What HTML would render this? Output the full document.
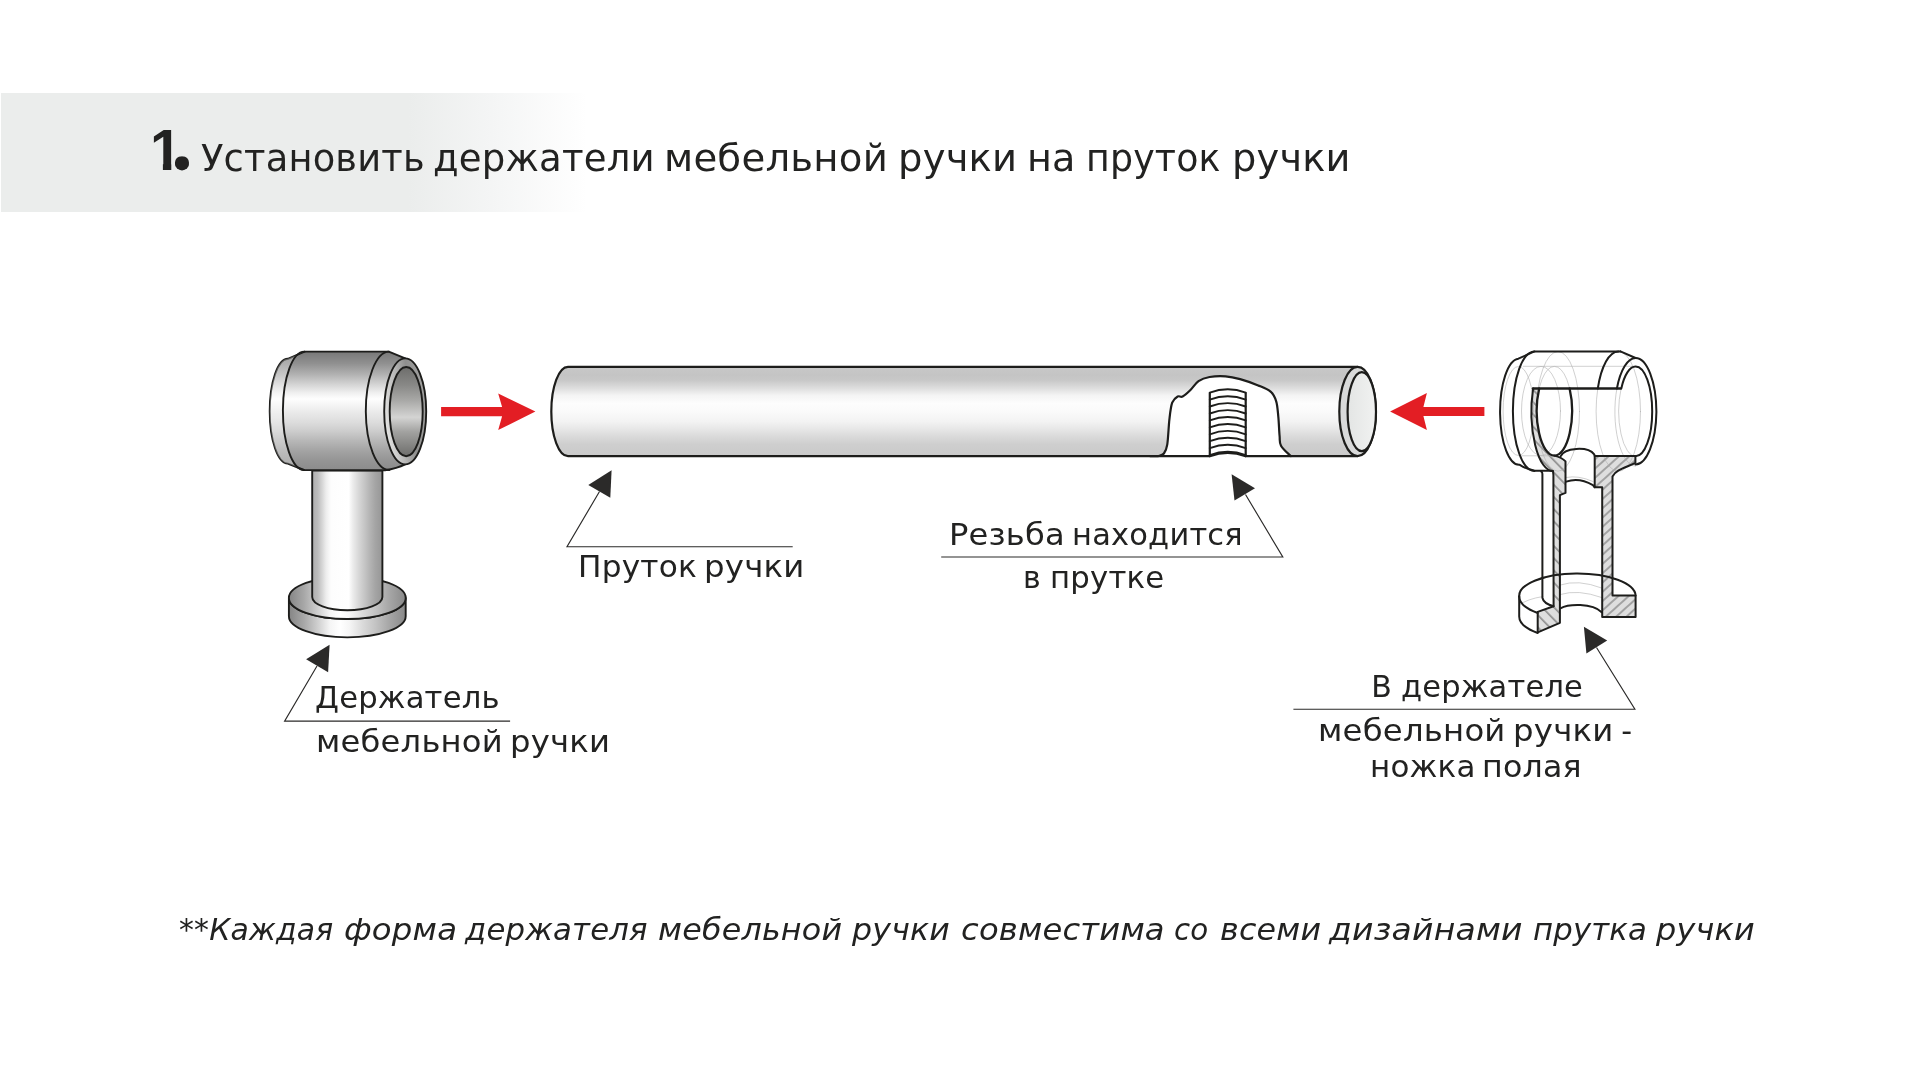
<!DOCTYPE html>
<html lang="ru"><head><meta charset="utf-8"><title>Шаг 1. Установить держатели мебельной ручки на пруток ручки</title>
<style>
html,body{margin:0;padding:0;background:#fff;}
body{width:1922px;height:1082px;position:relative;overflow:hidden;font-family:"DejaVu Sans","Liberation Sans",sans-serif;color:#222221;}
.band{position:absolute;left:1px;top:93px;width:600px;height:119px;background:linear-gradient(90deg,#ebedec 0,#ebedec 408px,#f4f5f5 490px,#fff 586px);}
.t{position:absolute;left:0;white-space:nowrap;line-height:1;margin:0;font-weight:normal;will-change:transform;}
.t span{position:absolute;top:0;transform-origin:0 0;}
svg{position:absolute;left:0;top:0;}
</style></head><body>
<div class="band"></div>
<svg width="1922" height="1082" viewBox="0 0 1922 1082">
<defs>
<linearGradient id="gBar" x1="0" y1="351.6" x2="0" y2="470" gradientUnits="userSpaceOnUse">
<stop offset="0" stop-color="#787878"/><stop offset="0.1" stop-color="#909090"/><stop offset="0.2" stop-color="#b4b4b4"/><stop offset="0.28" stop-color="#d5d5d5"/><stop offset="0.35" stop-color="#f0f0f0"/><stop offset="0.4" stop-color="#fefefe"/><stop offset="0.45" stop-color="#f5f5f5"/><stop offset="0.53" stop-color="#e7e7e7"/><stop offset="0.6" stop-color="#dcdcdc"/><stop offset="0.67" stop-color="#cdcdcd"/><stop offset="0.75" stop-color="#b8b8b8"/><stop offset="0.83" stop-color="#a5a5a5"/><stop offset="0.91" stop-color="#969696"/><stop offset="1" stop-color="#8c8c8c"/></linearGradient>
<linearGradient id="gHole" x1="0" y1="366" x2="0" y2="456" gradientUnits="userSpaceOnUse">
<stop offset="0" stop-color="#6c6c6a"/><stop offset="0.21" stop-color="#888886"/><stop offset="0.38" stop-color="#a8a8a6"/><stop offset="0.57" stop-color="#d4d4d3"/><stop offset="0.73" stop-color="#a2a2a0"/><stop offset="0.88" stop-color="#858583"/><stop offset="1" stop-color="#6e6e6c"/></linearGradient>
<linearGradient id="gRing" x1="0" y1="0.6" x2="1" y2="0.3">
<stop offset="0" stop-color="#e6e6e5"/><stop offset="0.35" stop-color="#b9b9b8"/><stop offset="0.62" stop-color="#8f8f8e"/><stop offset="1" stop-color="#a4a4a3"/></linearGradient>
<linearGradient id="gStem" x1="312" y1="0" x2="382.5" y2="0" gradientUnits="userSpaceOnUse">
<stop offset="0" stop-color="#adadad"/><stop offset="0.08" stop-color="#bcbcbc"/><stop offset="0.14" stop-color="#d4d4d4"/><stop offset="0.2" stop-color="#ededed"/><stop offset="0.27" stop-color="#fdfdfd"/><stop offset="0.52" stop-color="#ffffff"/><stop offset="0.58" stop-color="#ececec"/><stop offset="0.66" stop-color="#d8d8d8"/><stop offset="0.74" stop-color="#c6c6c6"/><stop offset="0.82" stop-color="#b4b4b4"/><stop offset="0.9" stop-color="#a4a4a4"/><stop offset="1" stop-color="#969696"/></linearGradient>
<linearGradient id="gBaseS" x1="289" y1="0" x2="406" y2="0" gradientUnits="userSpaceOnUse">
<stop offset="0" stop-color="#858585"/><stop offset="0.13" stop-color="#a8a8a8"/><stop offset="0.24" stop-color="#cdcdcd"/><stop offset="0.35" stop-color="#f5f5f5"/><stop offset="0.44" stop-color="#ffffff"/><stop offset="0.52" stop-color="#f5f5f5"/><stop offset="0.63" stop-color="#dadada"/><stop offset="0.74" stop-color="#c3c3c3"/><stop offset="0.85" stop-color="#a8a8a8"/><stop offset="1" stop-color="#888888"/></linearGradient>
<linearGradient id="gBaseT" x1="289" y1="0" x2="406" y2="0" gradientUnits="userSpaceOnUse">
<stop offset="0" stop-color="#858585"/><stop offset="0.13" stop-color="#a8a8a8"/><stop offset="0.24" stop-color="#cdcdcd"/><stop offset="0.35" stop-color="#f5f5f5"/><stop offset="0.44" stop-color="#ffffff"/><stop offset="0.52" stop-color="#f5f5f5"/><stop offset="0.63" stop-color="#dadada"/><stop offset="0.74" stop-color="#c3c3c3"/><stop offset="0.85" stop-color="#a8a8a8"/><stop offset="1" stop-color="#888888"/></linearGradient>
<linearGradient id="gRod" x1="0" y1="366.9" x2="0" y2="456.1" gradientUnits="userSpaceOnUse">
<stop offset="0" stop-color="#c8c8c8"/><stop offset="0.09" stop-color="#c4c4c4"/><stop offset="0.15" stop-color="#c8c8c8"/><stop offset="0.24" stop-color="#dedede"/><stop offset="0.32" stop-color="#f4f4f4"/><stop offset="0.41" stop-color="#fdfdfd"/><stop offset="0.5" stop-color="#fafafa"/><stop offset="0.61" stop-color="#f3f3f3"/><stop offset="0.69" stop-color="#e8e8e8"/><stop offset="0.78" stop-color="#dadada"/><stop offset="0.87" stop-color="#cecece"/><stop offset="1" stop-color="#cacaca"/></linearGradient>
<linearGradient id="gFace" x1="1347" y1="0" x2="1376" y2="0" gradientUnits="userSpaceOnUse">
<stop offset="0" stop-color="#e3e5e4"/><stop offset="1" stop-color="#f1f2f1"/></linearGradient>
<pattern id="hR" width="6.9" height="6.9" patternUnits="userSpaceOnUse" patternTransform="rotate(-42)"><line x1="0" y1="1" x2="6.9" y2="1" stroke="#333" stroke-width="0.7"/></pattern>
<pattern id="hL" width="8.5" height="8.5" patternUnits="userSpaceOnUse" patternTransform="rotate(46)"><line x1="0" y1="1" x2="8.5" y2="1" stroke="#222" stroke-width="0.7"/></pattern>
</defs>
<g fill="none" stroke="#1d1d1b" stroke-width="2.2" stroke-linejoin="round" stroke-linecap="round">
<g stroke-width="1.9">
<path d="M288.9,597.9 A58.4,21.1 0 0 0 405.7,597.9 L405.7,616.3 A58.4,21.1 0 0 1 288.9,616.3 Z" fill="url(#gBaseS)"/>
<ellipse cx="347.3" cy="597.9" rx="58.4" ry="21.1" fill="url(#gBaseT)"/>
<path d="M312.2,470.5 L382.4,470.5 L382.4,597 A35.1,13.2 0 0 1 312.2,597 Z" fill="url(#gStem)"/>
<path d="M304.6,351.6 L388.8,351.6 L405.2,358.4 A21,53 0 0 1 405.2,464.4 Q397,468.5 385,470.2 L304,470 L287.8,463.6 A18.1,52.4 0 0 1 287.8,358.8 Z" fill="url(#gBar)" stroke="none"/>
<path d="M405.2,358.4 L388.8,351.6 L304.6,351.6 L287.8,358.8 A18.1,52.4 0 0 0 287.8,463.6 L304,470 L385,470.2 Q397,468.5 405.2,464.4"/>
<path d="M304.6,351.6 L287.8,358.8 A18.1,52.4 0 0 0 287.8,463.6 L304,470 A21.4,59.2 0 0 1 304.6,351.6 Z" fill="#fff" fill-opacity="0.28" stroke="none"/>
<path d="M304.6,351.6 A21.4,59.2 0 0 0 304,470"/>
<path d="M388.8,351.6 A23.3,59.2 0 0 0 389.4,470"/>
<ellipse cx="405.2" cy="411.4" rx="21" ry="53" fill="url(#gRing)"/>
<ellipse cx="406.2" cy="411.6" rx="16.5" ry="44.6" fill="url(#gHole)"/>
</g>
<path d="M568,366.9 L1357.3,366.9 L1357.3,456.1 L568,456.1 A16.7,44.6 0 0 1 568,366.9 Z" fill="url(#gRod)" stroke="none"/>
<path d="M1357.3,366.9 L568,366.9 A16.7,44.6 0 0 0 568,456.1 L1158,456.1"/>
<ellipse cx="1357.6" cy="411.5" rx="18.3" ry="44.6" fill="#d9dada"/>
<ellipse cx="1361.8" cy="411.7" rx="14.2" ry="39.5" fill="url(#gFace)"/>
<path d="M1158.3,456.1 C1159.2,455.7 1162.4,455.5 1163.9,453.5 C1165.4,451.5 1166.4,450 1167.3,444.3 C1168.2,438.6 1168.6,426.2 1169.4,419.3 C1170.2,412.4 1170.8,406.5 1172.2,402.7 C1173.6,398.9 1176,397.5 1177.7,396.5 C1179.4,395.5 1180.5,397.6 1182.6,396.5 C1184.7,395.4 1187.5,392.8 1190.2,390.2 C1192.9,387.6 1195.3,383.4 1198.5,381.2 C1201.7,379 1205.1,377.8 1209.6,377 C1214.1,376.2 1220.5,375.9 1225.6,376.3 C1230.7,376.7 1234.7,377.6 1240.1,379.1 C1245.5,380.6 1253.1,383.3 1258.2,385.4 C1263.3,387.5 1267.6,389 1270.6,391.6 C1273.6,394.2 1274.9,397.1 1276.2,401.3 C1277.5,405.5 1277.7,410.8 1278.3,416.6 C1278.9,422.4 1279.1,431.1 1279.6,436 C1280,440.9 1279.2,442.3 1281,445.7 C1282.8,449.1 1289.1,454.4 1290.7,456.1 Z" fill="#fff" stroke="none"/>
<path d="M1158.3,456.1 C1159.2,455.7 1162.4,455.5 1163.9,453.5 C1165.4,451.5 1166.4,450 1167.3,444.3 C1168.2,438.6 1168.6,426.2 1169.4,419.3 C1170.2,412.4 1170.8,406.5 1172.2,402.7 C1173.6,398.9 1176,397.5 1177.7,396.5 C1179.4,395.5 1180.5,397.6 1182.6,396.5 C1184.7,395.4 1187.5,392.8 1190.2,390.2 C1192.9,387.6 1195.3,383.4 1198.5,381.2 C1201.7,379 1205.1,377.8 1209.6,377 C1214.1,376.2 1220.5,375.9 1225.6,376.3 C1230.7,376.7 1234.7,377.6 1240.1,379.1 C1245.5,380.6 1253.1,383.3 1258.2,385.4 C1263.3,387.5 1267.6,389 1270.6,391.6 C1273.6,394.2 1274.9,397.1 1276.2,401.3 C1277.5,405.5 1277.7,410.8 1278.3,416.6 C1278.9,422.4 1279.1,431.1 1279.6,436 C1280,440.9 1279.2,442.3 1281,445.7 C1282.8,449.1 1289.1,454.4 1290.7,456.1"/>
<path d="M1150,456.1 L1209.8,456.1 M1245.7,456.1 L1357.3,456.1"/>
<path d="M1209.8,456.1 L1209.8,393 M1245.7,456.1 L1245.7,393"/>
<path d="M1209.8,392.6 Q1227.8,385.8 1245.7,392.6 M1209.8,399.6 Q1227.8,392.8 1245.7,399.6 M1209.8,406.5 Q1227.8,399.7 1245.7,406.5 M1209.8,413.5 Q1227.8,406.7 1245.7,413.5 M1209.8,420.4 Q1227.8,413.6 1245.7,420.4 M1209.8,427.4 Q1227.8,420.6 1245.7,427.4 M1209.8,434.3 Q1227.8,427.5 1245.7,434.3 M1209.8,441.2 Q1227.8,434.4 1245.7,441.2 M1209.8,448.2 Q1227.8,441.4 1245.7,448.2 M1209.8,455.2 Q1227.8,448.4 1245.7,455.2 " stroke-width="1.9"/>
<path d="M1209.8,456.1 Q1227.8,449.5 1245.7,456.1"/>
<g stroke-width="2">
<path d="M1533.1,388.5 A21.5,59.8 0 0 0 1553,471.2 L1553.4,475 L1553.6,606.2 L1537.7,611.9 L1537.7,632.3 L1559.9,622.8 L1559.9,495.1 L1565.5,492.9 L1565.5,461.4 Q1562,457.6 1554.4,455.6 A17.6,44.6 0 0 1 1539.2,388.5 Z" fill="#dedede" stroke="none"/>
<path d="M1533.1,388.5 A21.5,59.8 0 0 0 1553,471.2 L1553.4,475 L1553.6,606.2 L1537.7,611.9 L1537.7,632.3 L1559.9,622.8 L1559.9,495.1 L1565.5,492.9 L1565.5,461.4 Q1562,457.6 1554.4,455.6 A17.6,44.6 0 0 1 1539.2,388.5 Z" fill="url(#hL)" stroke="none"/>
<path d="M1594.7,455.9 L1635.4,455.9 L1635.4,462.9 C1626,467.5 1616,469.5 1612.5,476.5 L1612.5,595.5 L1635.6,595.5 L1635.6,616.9 L1602.2,616.9 L1602.2,487.3 L1594.7,487.3 Z" fill="#dedede" stroke="none"/>
<path d="M1594.7,455.9 L1635.4,455.9 L1635.4,462.9 C1626,467.5 1616,469.5 1612.5,476.5 L1612.5,595.5 L1635.6,595.5 L1635.6,616.9 L1602.2,616.9 L1602.2,487.3 L1594.7,487.3 Z" fill="url(#hR)" stroke="none"/>
<g stroke="#b0b0b0" stroke-width="0.6">
<path d="M1523.3,366.3 L1634.2,366.3 M1521.9,455.8 L1552.4,455.8"/>
<ellipse cx="1518.4" cy="411" rx="15.3" ry="44.5"/>
<ellipse cx="1541" cy="411" rx="19.5" ry="44.6"/>
<ellipse cx="1554.4" cy="411" rx="17.6" ry="44.6"/>
<ellipse cx="1558" cy="411.4" rx="21.5" ry="59.8"/>
<ellipse cx="1618.3" cy="411.4" rx="22.2" ry="60"/>
<path d="M1616.9,388.5 A20.8,54.1 0 0 0 1635.6,466.2 M1621.1,388.5 A16.6,44.9 0 0 0 1635.6,456.3"/>
<path d="M1566,477.5 Q1578.4,475 1593,481.5"/>
<path d="M1560.3,585 Q1578,579 1601.6,588 M1560.3,594.5 Q1578,589 1601.6,597.5"/>
<path d="M1519.2,605 Q1527,599 1543,596.5"/>
</g>
<path d="M1620.4,351.4 L1534.4,351.4 L1518.4,358.7 A19,53 0 0 0 1519.8,464.8 Q1527,469.5 1534.8,470.7 L1552.5,470.7"/>
<path d="M1534.4,351.4 A21.5,59.8 0 0 0 1534.4,471"/>
<path d="M1533.1,388.5 A21.5,59.8 0 0 0 1553,471.2"/>
<path d="M1533.1,388.5 L1620.6,388.5" stroke-width="2.6"/>
<path d="M1539.2,388.5 A17.6,44.6 0 0 0 1554.4,455.6 A17.6,44.6 0 0 0 1569.6,388.5" stroke-width="2.3"/>
<path d="M1618.3,351.4 A22.2,60 0 0 0 1597.8,388.5"/>
<path d="M1620.4,351.4 L1635.6,358"/>
<path d="M1616.9,388.5 A20.8,54.1 0 0 1 1635.6,358 A20.8,54.1 0 0 1 1656.4,412.1 A20.8,54.1 0 0 1 1635.4,464.4"/>
<path d="M1621.3,388.5 A16.6,44.9 0 0 1 1635.6,366.5 A16.6,44.9 0 0 1 1652.2,411.4 A16.6,44.9 0 0 1 1635.6,456.3"/>
<path d="M1594.7,455.9 L1635.4,455.9 L1635.4,462.9 C1626,467.5 1616,469.5 1612.5,476.5 L1612.5,595.5 L1635.6,595.5 L1635.6,616.9 L1602.2,616.9 L1602.2,487.3 L1594.7,487.3 Z"/>
<path d="M1554.4,455.6 Q1562,457.6 1565.5,461.4 L1565.5,492.9 L1559.9,495.1 L1559.9,622.8 L1537.7,632.3 L1537.7,611.9 L1553.6,606.2 L1553.4,475 L1553,471.2"/>
<path d="M1560.5,456.5 C1564,447.5 1588,446 1594.2,454.4 L1594.7,455.9"/>
<path d="M1566.2,481.6 Q1579,477 1592.9,485.1 L1594.7,487.3"/>
<path d="M1541.2,471.5 Q1542.4,472 1542.4,474 L1542.4,597.7 Q1543.5,603.5 1553.6,606.2"/>
<path d="M1519.2,596.5 A58.2,22.5 0 0 1 1635.6,595.5"/>
<path d="M1519.2,596.5 A58.2,22.5 0 0 0 1537.7,613"/>
<path d="M1519.2,596.5 L1519.2,616.5 A58.2,22.5 0 0 0 1537.7,633"/>
<path d="M1560.4,608.3 C1568,604 1592,602.5 1601.7,612.2"/>
</g></g>
<path fill="#e31e24" d="M441.1,406.9 L502.1,406.9 L498.2,393.4 L535.4,411.6 L498.2,430 L502.1,416.3 L441.1,416.3 Z"/>
<path fill="#e31e24" d="M1484.4,407 L1423.4,407 L1426.9,393.1 L1390.1,411.4 L1426.9,429.9 L1423.4,416 L1484.4,416 Z"/>
<g fill="none" stroke="#2b2a29" stroke-width="1.15">
<path d="M599.5,491.5 L567,546.7 L792.7,546.7"/>
<path d="M1245.5,494.5 L1282.8,557 L941.2,557"/>
<path d="M317,666 L284.6,721.1 L510.1,721.1"/>
<path d="M1596.5,647.5 L1634.9,709.2 L1293.4,709.2"/>
</g>
<g fill="#2b2a29">
<path d="M611.6,470.2 L588.3,485 L610.3,497.8 Z"/>
<path d="M1231.6,474.2 L1255,488.2 L1234.5,500.6 Z"/>
<path d="M329.6,644.7 L306.1,659.3 L328.1,672.2 Z"/>
<path d="M1583.9,626.8 L1607.2,640.6 L1586.4,653.5 Z"/>
</g>
</svg>
<div class="t" id="num" style="top:0;font-weight:bold;font-family:'Liberation Sans',sans-serif;"><span style="left:149.9px;top:122.2px;font-size:57px;clip-path:polygon(0 0,100% 0,100% 41.7px,21.4px 41.7px,21.4px 100%,13px 100%,13px 41.7px,0 41.7px)">1</span><span style="left:168.3px;top:86.6px;font-size:99px;clip-path:circle(7.2px at 13.7px 76.6px)">.</span></div>
<div class="t" id="h" style="top:139.6px;font-size:37px;"><span style="left:200.9px;letter-spacing:0.2px;transform:scaleX(0.994)">Установить</span> <span style="left:433.1px;letter-spacing:0.2px;transform:scaleX(1.001)">держатели</span> <span style="left:663.5px;letter-spacing:0.2px;transform:scaleX(1.045)">мебельной</span> <span style="left:898.0px;letter-spacing:0.2px;transform:scaleX(1.041)">ручки</span> <span style="left:1026.9px;letter-spacing:0.2px;transform:scaleX(1.029)">на</span> <span style="left:1085.5px;letter-spacing:0.2px;transform:scaleX(0.981)">пруток</span> <span style="left:1232.1px;letter-spacing:0.2px;transform:scaleX(1.035)">ручки</span></div>
<div class="t" id="a" style="top:552.4px;font-size:30px;"><span style="left:577.9px;letter-spacing:0.2px;transform:scaleX(1.039)">Пруток</span> <span style="left:704.3px;letter-spacing:0.2px;transform:scaleX(1.08)">ручки</span></div>
<div class="t" id="b1" style="top:520.3px;font-size:30px;"><span style="left:948.9px;letter-spacing:0.2px;transform:scaleX(1.071)">Резьба</span> <span style="left:1072.2px;letter-spacing:0.2px;transform:scaleX(1.016)">находится</span></div>
<div class="t" id="b2" style="top:563.4px;font-size:30px;"><span style="left:1022.9px;letter-spacing:0.2px;transform:scaleX(1.0)">в</span> <span style="left:1049.5px;letter-spacing:0.2px;transform:scaleX(1.024)">прутке</span></div>
<div class="t" id="c1" style="top:682.8px;font-size:30px;"><span style="left:314.9px;letter-spacing:0.2px;transform:scaleX(1.021)">Держатель</span></div>
<div class="t" id="c2" style="top:726.8px;font-size:30px;"><span style="left:315.9px;letter-spacing:0.2px;transform:scaleX(1.073)">мебельной</span> <span style="left:510.3px;letter-spacing:0.2px;transform:scaleX(1.076)">ручки</span></div>
<div class="t" id="d1" style="top:672.0px;font-size:30px;"><span style="left:1371.3px;letter-spacing:0.2px;transform:scaleX(1.0)">В</span> <span style="left:1400.5px;letter-spacing:0.2px;transform:scaleX(1.017)">держателе</span></div>
<div class="t" id="d2" style="top:715.5px;font-size:30px;"><span style="left:1318.3px;letter-spacing:0.2px;transform:scaleX(1.077)">мебельной</span> <span style="left:1513.1px;letter-spacing:0.2px;transform:scaleX(1.079)">ручки</span> <span style="left:1621.3px;letter-spacing:0.2px;transform:scaleX(1.0)">-</span></div>
<div class="t" id="d3" style="top:751.7px;font-size:30px;"><span style="left:1369.8px;letter-spacing:0.2px;transform:scaleX(1.03)">ножка</span> <span style="left:1482.4px;letter-spacing:0.2px;transform:scaleX(1.055)">полая</span></div>
<div class="t" id="f" style="top:914.9px;font-size:30px;font-style:italic;"><span style="left:179.3px;letter-spacing:0.2px;transform:scaleX(0.993)">**Каждая</span> <span style="left:343.7px;letter-spacing:0.2px;transform:scaleX(1.077)">форма</span> <span style="left:465.0px;letter-spacing:0.2px;transform:scaleX(1.023)">держателя</span> <span style="left:658.4px;letter-spacing:0.2px;transform:scaleX(1.058)">мебельной</span> <span style="left:852.3px;letter-spacing:0.2px;transform:scaleX(1.052)">ручки</span> <span style="left:960.5px;letter-spacing:0.2px;transform:scaleX(1.072)">совместима</span> <span style="left:1173.5px;letter-spacing:0.2px;transform:scaleX(0.976)">со</span> <span style="left:1219.5px;letter-spacing:0.2px;transform:scaleX(1.057)">всеми</span> <span style="left:1329.2px;letter-spacing:0.2px;transform:scaleX(1.101)">дизайнами</span> <span style="left:1533.4px;letter-spacing:0.2px;transform:scaleX(1.022)">прутка</span> <span style="left:1656.1px;letter-spacing:0.2px;transform:scaleX(1.062)">ручки</span></div>
</body></html>
